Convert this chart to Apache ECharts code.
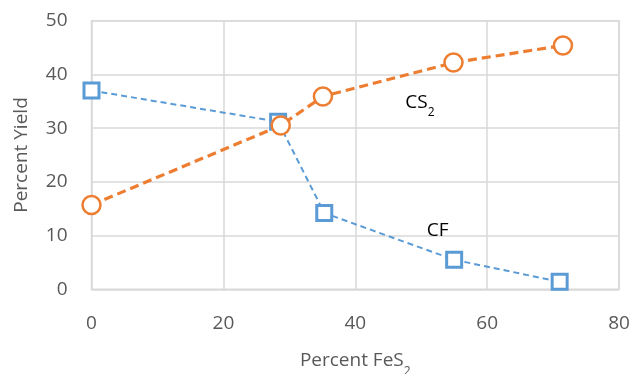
<!DOCTYPE html>
<html><head><meta charset="utf-8">
<script src="https://cdn.jsdelivr.net/npm/echarts@6/dist/echarts.min.js"></script>
<style>html,body{margin:0;padding:0;background:#fff;overflow:hidden}#c{width:634px;height:374px}</style>
</head><body><div id="c"></div>
<script>
const cfX = [0, 28.3, 35.3, 55.0, 71.0];
const cfY = [37.0, 31.2, 14.2, 5.5, 1.4];
const cs2X = [0, 28.7, 35.1, 54.9, 71.5];
const cs2Y = [15.7, 30.5, 35.9, 42.2, 45.4];
const xTicks = [0, 20, 40, 60, 80];
const yTicks = [0, 10, 20, 30, 40, 50];

const FONT = '"Open Sans", "Noto Sans", sans-serif';
const FS = 19;
const chart = echarts.init(document.getElementById('c'));
const zip = (a, b) => a.map((v, i) => [v, b[i]]);
const subRich = {
  a: { fontFamily: FONT, fontSize: FS, color: '#000' },
  b: { fontFamily: FONT, fontSize: 12, color: '#000', verticalAlign: 'bottom', padding: [0, 0, -7, 0] }
};
chart.setOption({
  animation: false,
  grid: { left: 91.5, right: 15, top: 20.7, bottom: 84.7, outerBoundsMode: 'none', containLabel: false,
          show: true, borderColor: '#d9d9d9', borderWidth: 1.5 },
  xAxis: {
    type: 'value', min: 0, max: 80, interval: 20,
    axisLine: { show: false }, axisTick: { show: false },
    splitLine: { show: true, lineStyle: { color: '#d9d9d9', width: 1.5 } },
    axisLabel: { color: '#595959', fontSize: FS, fontFamily: FONT, margin: 25,
                 formatter: v => xTicks.includes(v) ? String(v) : '' },
    name: '{a|Percent FeS}{b|2}', nameLocation: 'middle', nameGap: 62,
    nameTextStyle: {
      rich: {
        a: { fontFamily: FONT, fontSize: FS, color: '#595959' },
        b: { fontFamily: FONT, fontSize: 12, color: '#595959', verticalAlign: 'bottom', padding: [0, 0, -7, 0] }
      }
    }
  },
  yAxis: {
    type: 'value', min: 0, max: 50, interval: 10,
    axisLine: { show: false }, axisTick: { show: false },
    splitLine: { show: true, lineStyle: { color: '#d9d9d9', width: 1.5 } },
    axisLabel: { color: '#595959', fontSize: FS, fontFamily: FONT, margin: 24,
                 formatter: v => yTicks.includes(v) ? String(v) : '' },
    name: 'Percent Yield', nameLocation: 'middle', nameGap: 60, nameRotate: 90,
    nameTextStyle: { color: '#595959', fontSize: FS, fontFamily: FONT }
  },
  series: [
    {
      type: 'line', data: zip(cfX, cfY), symbol: 'rect', symbolSize: 15,
      lineStyle: { color: '#5B9BD5', width: 2, type: [6, 4] },
      itemStyle: { color: '#fff', borderColor: '#5B9BD5', borderWidth: 3 },
      markPoint: {
        symbol: 'circle', symbolSize: 0,
        label: { show: true, formatter: 'CF', color: '#000', fontSize: FS, fontFamily: FONT, position: 'inside' },
        data: [{ coord: [52.5, 11.0] }]
      },
      z: 2
    },
    {
      type: 'line', data: zip(cs2X, cs2Y), symbol: 'circle', symbolSize: 18,
      lineStyle: { color: '#ED7D31', width: 3.2, type: [9, 5] },
      itemStyle: { color: '#fff', borderColor: '#ED7D31', borderWidth: 2.5 },
      markPoint: {
        symbol: 'circle', symbolSize: 0,
        label: { show: true, formatter: '{a|CS}{b|2}', rich: subRich, position: 'inside' },
        data: [{ coord: [49.8, 34.8] }]
      },
      z: 3
    }
  ]
});
</script></body></html>
